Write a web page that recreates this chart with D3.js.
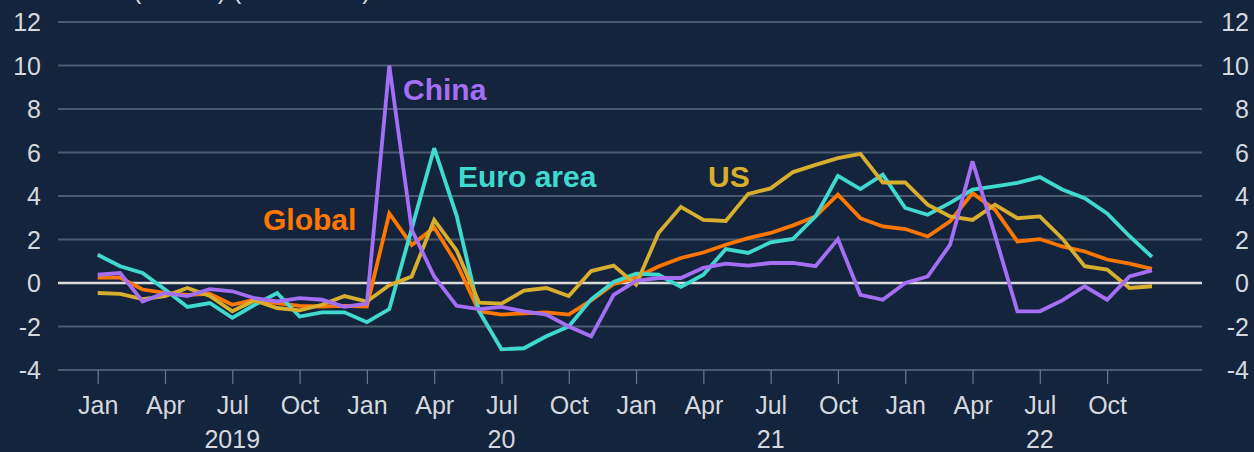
<!DOCTYPE html>
<html>
<head>
<meta charset="utf-8">
<script src="https://cdn.jsdelivr.net/npm/d3@7"></script>
<style>
  html, body { margin: 0; padding: 0; background: #14243c; }
  svg { display: block; }
  text { font-family: "Liberation Sans", Arial, sans-serif; }
</style>
</head>
<body>
<svg id="chart" width="1254" height="452"></svg>
<script>
// ---- Data (monthly, Jan 2019 – Dec 2022) ----
const months = d3.range(48); // month index from Jan 2019
const global = [0.25, 0.25, -0.3, -0.45, -0.55, -0.5, -1.0, -0.77, -0.92, -1.05, -1.08, -1.05,
  -1.08, 3.2, 1.75, 2.55, 0.9, -1.3, -1.45, -1.4, -1.35, -1.45, -0.8, -0.05,
  0.25, 0.76, 1.15, 1.4, 1.76, 2.06, 2.3, 2.65, 3.06, 4.06, 2.98, 2.6,
  2.48, 2.14, 2.83, 4.13, 3.37, 1.91, 2.02, 1.68, 1.45, 1.08, 0.89, 0.65];
const euroArea = [1.3, 0.77, 0.46, -0.3, -1.1, -0.92, -1.6, -1.0, -0.46, -1.54, -1.35, -1.35,
  -1.8, -1.2, 2.5, 6.2, 3.1, -1.3, -3.05, -3.0, -2.45, -2.0, -0.75, 0.05,
  0.43, 0.38, -0.18, 0.38, 1.56, 1.38, 1.87, 2.03, 3.06, 4.93, 4.32, 4.98,
  3.45, 3.14, 3.68, 4.29, 4.44, 4.6, 4.87, 4.3, 3.9, 3.2, 2.15, 1.2];
const china = [0.38, 0.46, -0.85, -0.46, -0.6, -0.28, -0.38, -0.7, -0.85, -0.7, -0.77, -1.1,
  -0.95, 10.0, 2.45, 0.3, -1.05, -1.2, -1.1, -1.3, -1.45, -2.0, -2.45, -0.55,
  0.1, 0.23, 0.23, 0.7, 0.89, 0.8, 0.92, 0.92, 0.77, 2.02, -0.54, -0.77,
  0.0, 0.3, 1.76, 5.6, 2.2, -1.3, -1.3, -0.8, -0.15, -0.77, 0.3, 0.58];
const us = [-0.46, -0.5, -0.74, -0.6, -0.23, -0.6, -1.3, -0.8, -1.15, -1.26, -1.0, -0.6,
  -0.85, -0.1, 0.3, 2.9, 1.5, -0.9, -0.95, -0.35, -0.23, -0.6, 0.55, 0.8,
  -0.08, 2.3, 3.5, 2.9, 2.85, 4.1, 4.35, 5.1, 5.43, 5.74, 5.94, 4.62,
  4.62, 3.6, 3.06, 2.9, 3.6, 2.98, 3.06, 2.05, 0.77, 0.62, -0.23, -0.15];

const yTicks = [-4, -2, 0, 2, 4, 6, 8, 10, 12];
const xTickIdx = d3.range(0, 48, 3);
const xTickLabels = ["Jan", "Apr", "Jul", "Oct", "Jan", "Apr", "Jul", "Oct",
  "Jan", "Apr", "Jul", "Oct", "Jan", "Apr", "Jul", "Oct"];
const yearIdx = [6, 18, 30, 42];
const yearLabels = ["2019", "20", "21", "22"];
const subtitle = "Per cent (3m/3m) (annualised)";

const seriesNames = ["Global", "Euro area", "US", "China"];
const seriesValues = [global, euroArea, us, china];
const seriesColors = ["#ff7700", "#3fd9d0", "#d8ae2e", "#a46ff5"];

// ---- Layout ----
const svg = d3.select("#chart");
const plotLeft = 58, plotRight = 1202, plotTop = 22, plotBottom = 370;

const x = d3.scaleLinear().domain([-1.77, 49.23]).range([plotLeft, plotRight]);
const y = d3.scaleLinear().domain([-4, 12]).range([plotBottom, plotTop]);

svg.append("rect").attr("width", 1254).attr("height", 452).attr("fill", "#14243c");

// subtitle (clipped at the top edge, as in the reference)
svg.append("text").attr("x", 33).attr("y", -1)
  .attr("fill", "#d5d9df").attr("font-size", 25).text(subtitle);

// gridlines
svg.append("g").selectAll("line").data(yTicks.filter(d => d !== 0)).join("line")
  .attr("x1", plotLeft).attr("x2", plotRight)
  .attr("y1", d => y(d)).attr("y2", d => y(d))
  .attr("stroke", "#4a5a6f").attr("stroke-width", 2.2);

// left / right axes (labels only)
const fmt = d => String(d);
const axisL = d3.axisLeft(y).tickValues(yTicks).tickFormat(fmt).tickSize(0).tickPadding(0);
const gL = svg.append("g").attr("transform", "translate(41,0)").call(axisL);
const axisR = d3.axisLeft(y).tickValues(yTicks).tickFormat(fmt).tickSize(0).tickPadding(0);
const gR = svg.append("g").attr("transform", "translate(1249,0)").call(axisR);
[gL, gR].forEach(g => {
  g.select(".domain").remove();
  g.selectAll("text").attr("fill", "#d5d9df").attr("font-size", 25)
    .attr("font-family", "Liberation Sans, Arial, sans-serif").attr("dy", "0.34em");
});

// bottom axis
const axisB = d3.axisBottom(x).tickValues(xTickIdx)
  .tickFormat((d, i) => xTickLabels[i]).tickSize(14).tickPadding(12);
const gB = svg.append("g").attr("transform", `translate(0,${plotBottom})`).call(axisB);
gB.select(".domain").remove();
gB.selectAll("line").attr("stroke", "#6a7889").attr("stroke-width", 1.2);
gB.selectAll("text").attr("fill", "#d5d9df").attr("font-size", 25)
  .attr("font-family", "Liberation Sans, Arial, sans-serif");

svg.append("g").selectAll("text").data(yearIdx).join("text")
  .attr("x", d => x(d)).attr("y", 448).attr("text-anchor", "middle")
  .attr("fill", "#d5d9df").attr("font-size", 25)
  .text((d, i) => yearLabels[i]);

// zero line
svg.append("line").attr("x1", plotLeft).attr("x2", plotRight)
  .attr("y1", y(0)).attr("y2", y(0)).attr("stroke", "#dcdcdc").attr("stroke-width", 2.6);

// series lines
const line = d3.line().x((d, i) => x(months[i])).y(d => y(d));
svg.append("g").selectAll("path").data(seriesValues).join("path")
  .attr("d", d => line(d)).attr("fill", "none")
  .attr("stroke", (d, i) => seriesColors[i]).attr("stroke-width", 3.8)
  .attr("stroke-linejoin", "miter").attr("stroke-miterlimit", 2.5);

// series labels
const labelPos = [[263, 230], [458, 187], [708, 187], [403, 100]];
svg.append("g").selectAll("text").data(seriesNames).join("text")
  .attr("x", (d, i) => labelPos[i][0]).attr("y", (d, i) => labelPos[i][1])
  .attr("fill", (d, i) => seriesColors[i]).attr("font-size", 30).attr("font-weight", "bold")
  .text(d => d);
</script>
</body>
</html>
